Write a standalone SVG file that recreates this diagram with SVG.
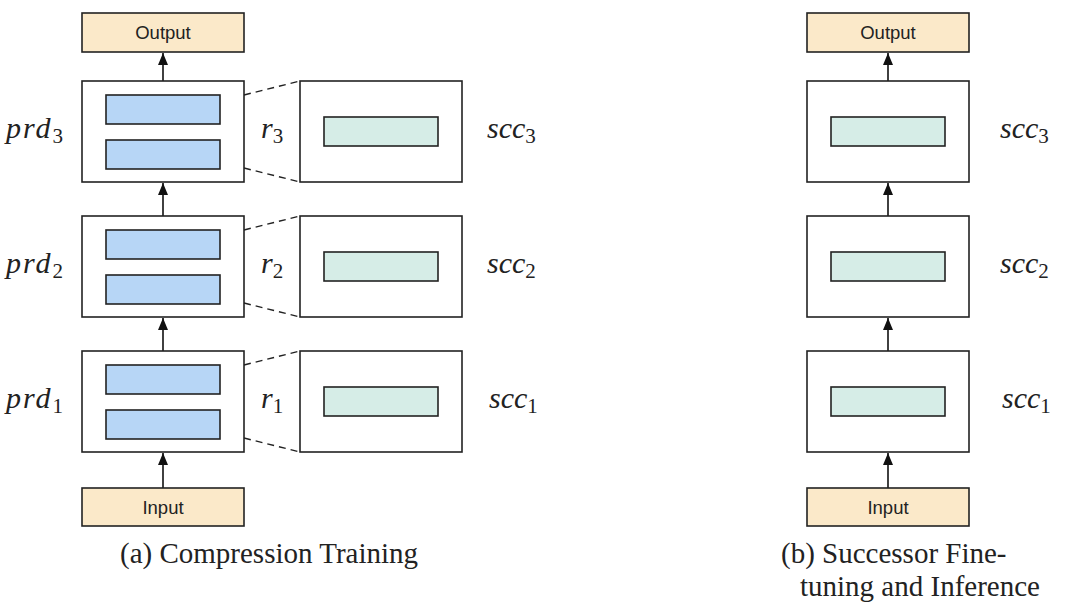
<svg xmlns="http://www.w3.org/2000/svg" width="1080" height="611" viewBox="0 0 1080 611">
<style>
.io{fill:#fbe9c9;stroke:#222;stroke-width:1.6}
.blk{fill:#fff;stroke:#222;stroke-width:1.6}
.blue{fill:#b7d6f6;stroke:#222;stroke-width:1.6}
.teal{fill:#d6ede7;stroke:#222;stroke-width:1.6}
.iot{font-family:"Liberation Sans",Arial,sans-serif;font-size:18.5px;fill:#222;text-anchor:middle}
.math{font-family:"Liberation Serif","Times New Roman",serif;font-style:italic;font-size:30px;fill:#222}
.wide{letter-spacing:2px}
.sub{font-style:normal;font-size:21px;letter-spacing:0}
.cap{font-family:"Liberation Serif","Times New Roman",serif;font-size:29px;fill:#222}
.arr{stroke:#111;stroke-width:1.6;fill:none;marker-end:url(#ah)}
.dash{stroke:#222;stroke-width:1.4;fill:none;stroke-dasharray:7 5}
</style>
<defs>
<marker id="ah" viewBox="0 0 12 10" refX="12" refY="5" markerWidth="13" markerHeight="10" markerUnits="userSpaceOnUse" orient="auto">
<path d="M0,0 L12,5 L0,10 z" fill="#111"/>
</marker>
</defs>
<rect width="1080" height="611" fill="#fff"/>

<g id="connectors">
<line class="arr" x1="163" y1="81" x2="163" y2="53"/>
<line class="arr" x1="163" y1="216" x2="163" y2="183"/>
<line class="arr" x1="163" y1="351" x2="163" y2="318"/>
<line class="arr" x1="163" y1="488" x2="163" y2="453"/>
<line class="arr" x1="888" y1="81" x2="888" y2="53"/>
<line class="arr" x1="888" y1="216" x2="888" y2="183"/>
<line class="arr" x1="888" y1="351" x2="888" y2="318"/>
<line class="arr" x1="888" y1="488" x2="888" y2="453"/>
<path class="dash" d="M244,95 L300,81 M244,168 L300,182"/>
<path class="dash" d="M244,230 L300,216 M244,303 L300,317"/>
<path class="dash" d="M244,365 L300,351 M244,438 L300,452"/>
</g>

<g id="a-output"><rect class="io" x="82" y="13" width="162" height="39"/><text class="iot" x="163" y="39">Output</text></g>
<g id="a-prd3"><rect class="blk" x="82" y="81" width="162" height="101"/><rect class="blue" x="106" y="95" width="114" height="29"/><rect class="blue" x="106" y="140" width="114" height="29"/></g>
<g id="a-prd2"><rect class="blk" x="82" y="216" width="162" height="101"/><rect class="blue" x="106" y="230" width="114" height="29"/><rect class="blue" x="106" y="275" width="114" height="29"/></g>
<g id="a-prd1"><rect class="blk" x="82" y="351" width="162" height="101"/><rect class="blue" x="106" y="365" width="114" height="29"/><rect class="blue" x="106" y="410" width="114" height="29"/></g>
<g id="a-input"><rect class="io" x="82" y="488" width="162" height="38"/><text class="iot" x="163" y="514">Input</text></g>

<g id="a-scc3"><rect class="blk" x="300" y="81" width="162" height="101"/><rect class="teal" x="324" y="117" width="114" height="29"/></g>
<g id="a-scc2"><rect class="blk" x="300" y="216" width="162" height="101"/><rect class="teal" x="324" y="252" width="114" height="29"/></g>
<g id="a-scc1"><rect class="blk" x="300" y="351" width="162" height="101"/><rect class="teal" x="324" y="387" width="114" height="29"/></g>

<g id="a-labels">
<text class="math wide" x="6" y="138">prd<tspan class="sub" dy="5">3</tspan></text>
<text class="math wide" x="6" y="273">prd<tspan class="sub" dy="5">2</tspan></text>
<text class="math wide" x="6" y="408">prd<tspan class="sub" dy="5">1</tspan></text>
<text class="math" x="261" y="138">r<tspan class="sub" dy="5">3</tspan></text>
<text class="math" x="261" y="273">r<tspan class="sub" dy="5">2</tspan></text>
<text class="math" x="261" y="408">r<tspan class="sub" dy="5">1</tspan></text>
<text class="math" x="487" y="138">scc<tspan class="sub" dy="5">3</tspan></text>
<text class="math" x="487" y="273">scc<tspan class="sub" dy="5">2</tspan></text>
<text class="math" x="489" y="408">scc<tspan class="sub" dy="5">1</tspan></text>
</g>

<g id="b-output"><rect class="io" x="807" y="13" width="162" height="39"/><text class="iot" x="888" y="39">Output</text></g>
<g id="b-scc3"><rect class="blk" x="807" y="81" width="162" height="101"/><rect class="teal" x="831" y="117" width="114" height="29"/></g>
<g id="b-scc2"><rect class="blk" x="807" y="216" width="162" height="101"/><rect class="teal" x="831" y="252" width="114" height="29"/></g>
<g id="b-scc1"><rect class="blk" x="807" y="351" width="162" height="101"/><rect class="teal" x="831" y="387" width="114" height="29"/></g>
<g id="b-input"><rect class="io" x="807" y="488" width="162" height="38"/><text class="iot" x="888" y="514">Input</text></g>
<g id="b-labels">
<text class="math" x="1000" y="138">scc<tspan class="sub" dy="5">3</tspan></text>
<text class="math" x="1000" y="273">scc<tspan class="sub" dy="5">2</tspan></text>
<text class="math" x="1002" y="408">scc<tspan class="sub" dy="5">1</tspan></text>
</g>

<g id="captions">
<text class="cap" x="120" y="563">(a) Compression Training</text>
<text class="cap" x="781" y="563">(b) Successor Fine-</text>
<text class="cap" x="800" y="596">tuning and Inference</text>
</g>
</svg>
